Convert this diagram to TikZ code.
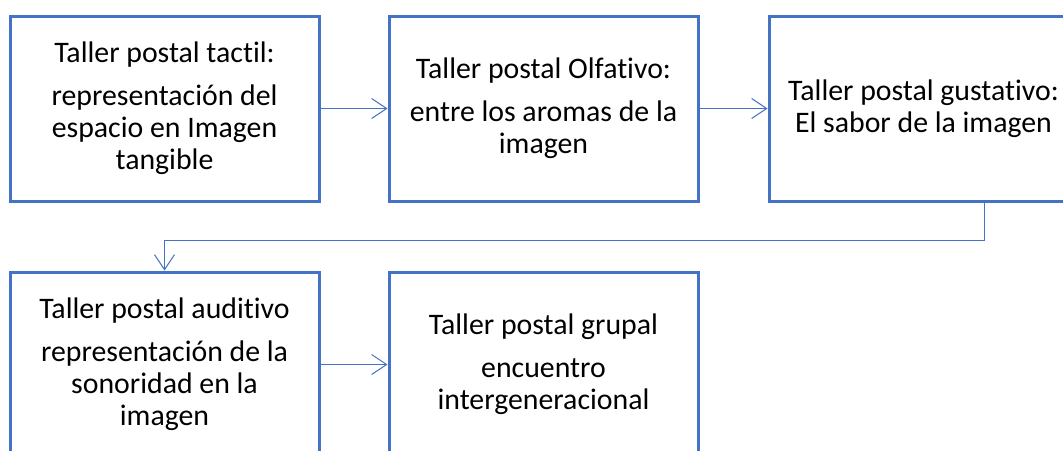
\documentclass[tikz,border=0pt]{standalone}
\usepackage{fontspec}
\setmainfont{Carlito}[RawFeature={-liga;-clig;-dlig}]
\usetikzlibrary{arrows.meta}
\definecolor{boxblue}{HTML}{4472C4}
\tikzset{
  stepbox/.style={draw=boxblue, line width=3pt, minimum width=309pt, minimum height=185pt,
    inner sep=0pt, align=center, font=\fontsize{29.8pt}{32pt}\selectfont, text=black},
  conn/.style={draw=boxblue, line width=1pt, -{Straight Barb[length=15pt,width=20pt,line width=1pt]}}
}
\begin{document}
\begin{tikzpicture}
\useasboundingbox (0,0) rectangle (1063pt,-450pt);
\clip (0,0) rectangle (1063pt,-450pt);
\node[stepbox] (b1) at (164.5pt,-108.5pt) {Taller postal tactil:\\[11pt]representación del\\espacio en Imagen\\tangible};
\node[stepbox] (b2) at (543.5pt,-108.5pt) {Taller postal Olfativo:\\[11pt]entre los aromas de la\\imagen};
\node[stepbox] (b3) at (923.5pt,-108.5pt) {Taller postal gustativo:\\El sabor de la imagen};
\node[stepbox] (b4) at (164.5pt,-364.5pt) {Taller postal auditivo\\[11pt]representación de la\\sonoridad en la\\imagen};
\node[stepbox] (b5) at (543.5pt,-364.5pt) {Taller postal grupal\\[11pt]encuentro\\intergeneracional};
\draw[conn] (b1.east) -- (b2.west);
\draw[conn] (b2.east) -- (b3.west);
\draw[conn] (b4.east) -- (b5.west);
\draw[conn] ([xshift=60.5pt]b3.south) -- ++(0,-38pt) -| (b4.north);
\end{tikzpicture}
\end{document}
